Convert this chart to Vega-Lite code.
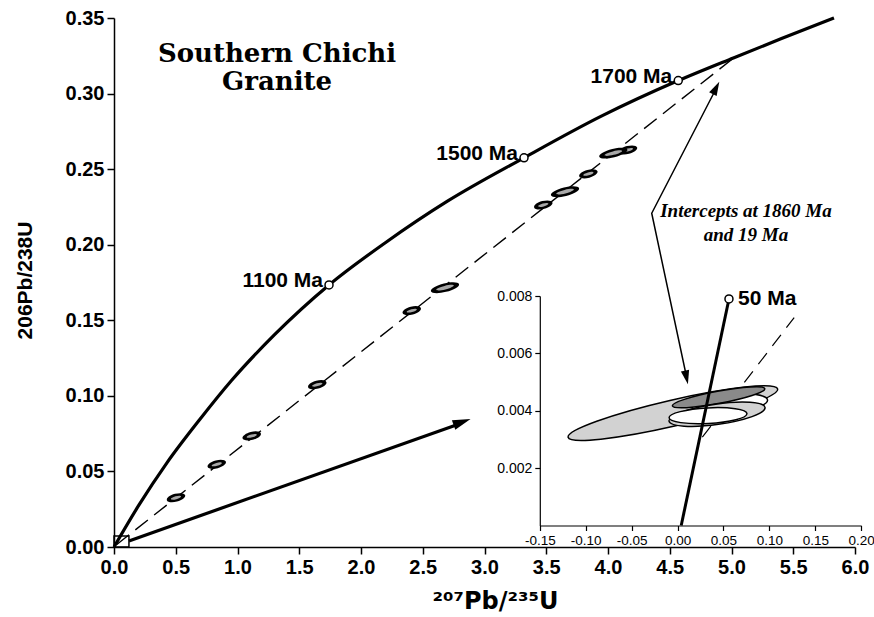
{
  "$schema": "https://vega.github.io/schema/vega-lite/v6.json",
  "width": 741,
  "height": 529,
  "autosize": "none",
  "padding": {"left": 114, "top": 18, "right": 19, "bottom": 70},
  "background": "white",
  "config": {
    "view": {"stroke": null},
    "axis": {"grid": false, "domainColor": "black", "tickColor": "black", "labelColor": "black", "titleColor": "black", "labelFont": "Liberation Sans", "titleFont": "Liberation Sans"}
  },
  "datasets": {
    "concordia": [
      {"x": 0, "y": 0}, {"x": 0.2, "y": 0.0275}, {"x": 0.427, "y": 0.0555}, {"x": 0.696, "y": 0.0845},
      {"x": 0.953, "y": 0.1103}, {"x": 1.3, "y": 0.1405}, {"x": 1.741, "y": 0.1734}, {"x": 2.2, "y": 0.2015},
      {"x": 2.7, "y": 0.2288}, {"x": 3.32, "y": 0.2575}, {"x": 3.95, "y": 0.2852}, {"x": 4.569, "y": 0.3086},
      {"x": 5.015, "y": 0.3236}, {"x": 5.4, "y": 0.3362}, {"x": 5.83, "y": 0.35}
    ],
    "discordia": [{"x": 0.02, "y": 0.0015}, {"x": 5.015, "y": 0.3234}],
    "grains": [
      {"grain": "z1", "x": 0.502, "y": 0.0326}, {"grain": "z2", "x": 0.832, "y": 0.0547},
      {"grain": "z3", "x": 1.115, "y": 0.0735}, {"grain": "z4", "x": 1.646, "y": 0.1074},
      {"grain": "z5", "x": 2.411, "y": 0.1564}, {"grain": "z6", "x": 2.68, "y": 0.1716},
      {"grain": "z7", "x": 3.476, "y": 0.2263}, {"grain": "z8", "x": 3.652, "y": 0.2351},
      {"grain": "z9", "x": 3.841, "y": 0.2469}, {"grain": "z10", "x": 4.043, "y": 0.2606},
      {"grain": "z11", "x": 4.162, "y": 0.2627}
    ],
    "ages": [
      {"x": 1.741, "y": 0.1734, "label": "1100 Ma"},
      {"x": 3.32, "y": 0.2575, "label": "1500 Ma"},
      {"x": 4.569, "y": 0.3086, "label": "1700 Ma"}
    ],
    "arrows": [
      {"id": "a", "i": 0, "x": 0.121, "y": 0.004}, {"id": "a", "i": 1, "x": 2.8, "y": 0.0816},
      {"id": "b", "i": 0, "x": 4.88, "y": 0.304}, {"id": "b", "i": 1, "x": 4.354, "y": 0.2208}, {"id": "b", "i": 2, "x": 4.64, "y": 0.111}
    ],
    "heads": [
      {"id": "a", "x": 2.887, "y": 0.0847},
      {"id": "up", "x": 4.901, "y": 0.3079},
      {"id": "down", "x": 4.647, "y": 0.1077}
    ],
    "box": [{"x": 0, "x2": 0.121, "y": 0, "y2": 0.0073}],
    "title": [
      {"x": 1.32, "y": 0.3212, "label": "Southern Chichi"},
      {"x": 1.32, "y": 0.3025, "label": "Granite"}
    ],
    "note": [
      {"x": 5.117, "y": 0.2186, "label": "Intercepts at 1860 Ma"},
      {"x": 5.117, "y": 0.2027, "label": "and 19 Ma"}
    ],
    "insetDisc": [{"x": 0.027, "y": 0.00308}, {"x": 0.127, "y": 0.00725}],
    "insetEll": [
      {"id": "A", "x": -0.0051, "y": 0.00392},
      {"id": "B", "x": 0.0568, "y": 0.00426},
      {"id": "C", "x": 0.0447, "y": 0.00447},
      {"id": "D", "x": 0.043, "y": 0.00388},
      {"id": "E", "x": 0.0332, "y": 0.00383}
    ],
    "insetConc": [{"x": 0.004, "y": 0}, {"x": 0.056, "y": 0.0079}],
    "insetAge": [{"x": 0.056, "y": 0.0079, "label": "50 Ma"}]
  },
  "layer": [
    {
      "encoding": {
        "x": {"field": "x", "type": "quantitative",
          "scale": {"domain": [0, 6], "nice": false, "zero": false},
          "axis": {"orient": "bottom", "values": [0, 0.5, 1, 1.5, 2, 2.5, 3, 3.5, 4, 4.5, 5, 5.5, 6], "format": ".1f",
            "labelFontSize": 20, "labelFontWeight": "bold", "labelFlush": false, "labelOverlap": false,
            "tickSize": 7, "tickWidth": 1.5, "domainWidth": 1.5, "labelPadding": 3,
            "title": "²⁰⁷Pb/²³⁵U", "titleFont": "DejaVu Sans", "titleFontSize": 24, "titleFontWeight": "bold", "titlePadding": 12,
            "titleX": 381, "titleAlign": "center"}},
        "y": {"field": "y", "type": "quantitative",
          "scale": {"domain": [0, 0.35], "nice": false, "zero": false},
          "axis": {"orient": "left", "values": [0, 0.05, 0.1, 0.15, 0.2, 0.25, 0.3, 0.35], "format": ".2f",
            "labelFontSize": 20, "labelFontWeight": "bold", "labelFlush": false, "labelOverlap": false,
            "tickSize": 7, "tickWidth": 1.5, "domainWidth": 1.5, "labelPadding": 3,
            "title": "206Pb/238U", "titleFontSize": 21, "titleFontWeight": "bold", "titlePadding": 30,
            "titleY": 262, "titleAlign": "center"}}
      },
      "layer": [
        {"data": {"name": "discordia"}, "mark": {"type": "line", "color": "black", "strokeWidth": 1.4, "strokeDash": [16, 8]}},
        {"data": {"name": "concordia"}, "mark": {"type": "line", "color": "black", "strokeWidth": 3.2, "interpolate": "monotone"}},
        {"data": {"name": "grains"}, "transform": [{"filter": {"not": {"field": "grain", "oneOf": ["z6", "z8", "z10"]}}}],
          "mark": {"type": "point", "shape": "M-1,0A1,0.42,0,1,1,1,0A1,0.42,0,1,1,-1,0Z", "size": 361, "angle": -15, "filled": true, "color": "black", "opacity": 1}},
        {"data": {"name": "grains"}, "transform": [{"filter": {"not": {"field": "grain", "oneOf": ["z6", "z8", "z10"]}}}],
          "mark": {"type": "point", "shape": "M-1,0A1,0.28,0,1,1,1,0A1,0.28,0,1,1,-1,0Z", "size": 110, "angle": -15, "filled": true, "color": "#a8a8a8", "opacity": 1}},
        {"data": {"name": "grains"}, "transform": [{"filter": {"field": "grain", "oneOf": ["z6", "z8", "z10"]}}],
          "mark": {"type": "point", "shape": "M-1,0A1,0.3,0,1,1,1,0A1,0.3,0,1,1,-1,0Z", "size": 841, "angle": -14, "filled": true, "color": "black", "opacity": 1}},
        {"data": {"name": "grains"}, "transform": [{"filter": {"field": "grain", "oneOf": ["z6", "z8", "z10"]}}],
          "mark": {"type": "point", "shape": "M-1,0A1,0.2,0,1,1,1,0A1,0.2,0,1,1,-1,0Z", "size": 324, "angle": -14, "filled": true, "color": "#a8a8a8", "opacity": 1}},
        {"data": {"name": "arrows"}, "mark": {"type": "line", "color": "black", "strokeWidth": 1.5},
          "transform": [{"filter": "datum.id == 'b'"}],
          "encoding": {"detail": {"field": "id"}, "order": {"field": "i", "type": "quantitative"}}},
        {"data": {"name": "arrows"}, "mark": {"type": "line", "color": "black", "strokeWidth": 3.2},
          "transform": [{"filter": "datum.id == 'a'"}],
          "encoding": {"detail": {"field": "id"}, "order": {"field": "i", "type": "quantitative"}}},
        {"data": {"name": "heads"}, "transform": [{"filter": "datum.id == 'a'"}],
          "mark": {"type": "point", "shape": "M0,0L-1,-0.28L-1,0.28Z", "size": 1296, "angle": -19.7, "filled": true, "color": "black", "opacity": 1}},
        {"data": {"name": "heads"}, "transform": [{"filter": "datum.id == 'up'"}],
          "mark": {"type": "point", "shape": "M0,0L-1,-0.3L-1,0.3Z", "size": 784, "angle": -62.8, "filled": true, "color": "black", "opacity": 1}},
        {"data": {"name": "heads"}, "transform": [{"filter": "datum.id == 'down'"}],
          "mark": {"type": "point", "shape": "M0,0L-1,-0.3L-1,0.3Z", "size": 784, "angle": 78, "filled": true, "color": "black", "opacity": 1}},
        {"data": {"name": "box"}, "mark": {"type": "rect", "fill": null, "fillOpacity": 0, "stroke": "black", "strokeWidth": 1.5},
          "encoding": {"x2": {"field": "x2"}, "y2": {"field": "y2"}}},
        {"data": {"name": "ages"}, "mark": {"type": "point", "shape": "circle", "size": 64, "filled": true, "fill": "white", "stroke": "black", "strokeWidth": 1.5, "opacity": 1}},
        {"data": {"name": "ages"}, "mark": {"type": "text", "align": "right", "baseline": "middle", "dx": -6, "dy": -4, "font": "Liberation Sans", "fontWeight": "bold", "fontSize": 21, "color": "black"},
          "encoding": {"text": {"field": "label"}}},
        {"data": {"name": "title"}, "mark": {"type": "text", "align": "center", "baseline": "alphabetic", "font": "DejaVu Serif", "fontWeight": "bold", "fontSize": 26, "color": "black"},
          "encoding": {"text": {"field": "label"}}},
        {"data": {"name": "note"}, "mark": {"type": "text", "align": "center", "baseline": "alphabetic", "font": "Liberation Serif", "fontWeight": "bold", "fontStyle": "italic", "fontSize": 19, "color": "black"},
          "encoding": {"text": {"field": "label"}}}
      ]
    },
    {
      "encoding": {
        "x": {"field": "x", "type": "quantitative",
          "scale": {"domain": [-0.15, 0.2], "range": [425.8, 747.2], "nice": false, "zero": false},
          "axis": {"orient": "bottom", "offset": -21.5, "values": [-0.15, -0.1, -0.05, 0, 0.05, 0.1, 0.15, 0.2], "format": ".2f",
            "labelExpr": "replace(datum.label, '\u2212', '-')",
            "labelFontSize": 13.5, "labelFlush": false, "labelOverlap": false, "tickSize": 5, "tickWidth": 1.2, "domainWidth": 1.2, "labelPadding": 3, "title": null}},
        "y": {"field": "y", "type": "quantitative",
          "scale": {"domain": [0, 0.008], "range": [507.5, 278.1], "nice": false, "zero": false},
          "axis": {"orient": "left", "offset": -425.8, "values": [0.002, 0.004, 0.006, 0.008], "format": ".3f",
            "labelFontSize": 14, "labelFlush": false, "labelOverlap": false, "tickSize": 5, "tickWidth": 1.2, "domainWidth": 1.2, "labelPadding": 3, "title": null}}
      },
      "layer": [
        {"data": {"name": "insetDisc"}, "mark": {"type": "line", "color": "black", "strokeWidth": 1.2, "strokeDash": [14, 9]}},
        {"data": {"name": "insetEll"}, "transform": [{"filter": "datum.id == 'A'"}],
          "mark": {"type": "point", "shape": "M-1,0A1,0.121,0,1,1,1,0A1,0.121,0,1,1,-1,0Z", "size": 46225, "angle": -13, "filled": true, "fill": "#d2d2d2", "stroke": "black", "strokeWidth": 1.5, "opacity": 1}},
        {"data": {"name": "insetEll"}, "transform": [{"filter": "datum.id == 'B'"}],
          "mark": {"type": "point", "shape": "M-1,0A1,0.24,0,1,1,1,0A1,0.24,0,1,1,-1,0Z", "size": 5776, "angle": -5, "filled": true, "fill": "white", "stroke": "black", "strokeWidth": 1.5, "opacity": 1}},
        {"data": {"name": "insetEll"}, "transform": [{"filter": "datum.id == 'C'"}],
          "mark": {"type": "point", "shape": "M-1,0A1,0.13,0,1,1,1,0A1,0.13,0,1,1,-1,0Z", "size": 8836, "angle": -10.5, "filled": true, "fill": "#8a8a8a", "stroke": "black", "strokeWidth": 1.5, "opacity": 1}},
        {"data": {"name": "insetEll"}, "transform": [{"filter": "datum.id == 'D'"}],
          "mark": {"type": "point", "shape": "M-1,0A1,0.21,0,1,1,1,0A1,0.21,0,1,1,-1,0Z", "size": 9409, "angle": -8, "filled": true, "fill": "#d2d2d2", "stroke": "black", "strokeWidth": 1.5, "opacity": 1}},
        {"data": {"name": "insetEll"}, "transform": [{"filter": "datum.id == 'E'"}],
          "mark": {"type": "point", "shape": "M-1,0A1,0.2,0,1,1,1,0A1,0.2,0,1,1,-1,0Z", "size": 6084, "angle": -3, "filled": true, "fill": "white", "stroke": "black", "strokeWidth": 1.5, "opacity": 1}},
        {"data": {"name": "insetConc"}, "mark": {"type": "line", "color": "black", "strokeWidth": 3}},
        {"data": {"name": "insetAge"}, "mark": {"type": "point", "shape": "circle", "size": 64, "filled": true, "fill": "white", "stroke": "black", "strokeWidth": 1.5, "opacity": 1}},
        {"data": {"name": "insetAge"}, "mark": {"type": "text", "align": "left", "baseline": "middle", "dx": 9, "dy": 0, "font": "Liberation Sans", "fontWeight": "bold", "fontSize": 21, "color": "black"},
          "encoding": {"text": {"field": "label"}}}
      ]
    }
  ],
  "resolve": {"scale": {"x": "independent", "y": "independent"}}
}
